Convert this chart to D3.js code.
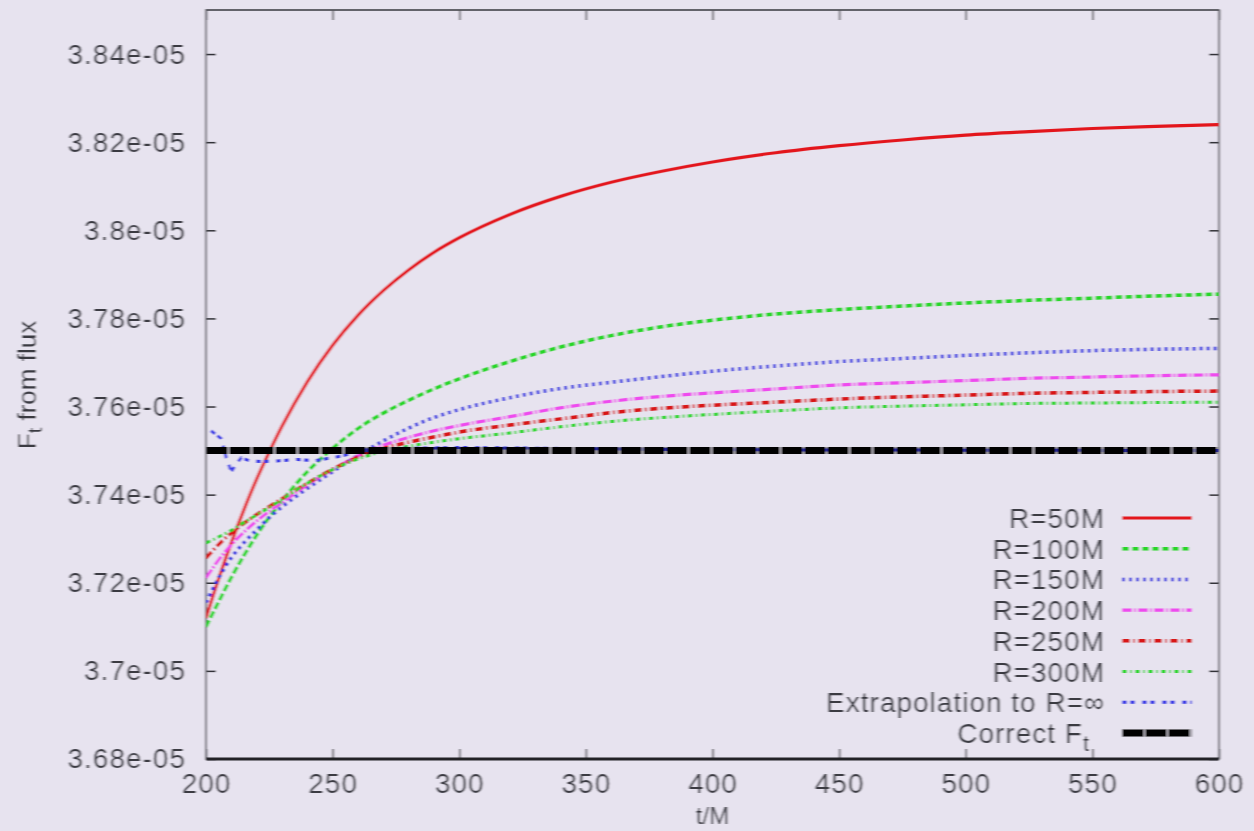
<!DOCTYPE html>
<html>
<head>
<meta charset="utf-8">
<script src="https://cdn.jsdelivr.net/npm/d3@7"></script>
<style>
  html, body { margin: 0; padding: 0; background: #e7e3ef; }
  svg { display: block; }
  text { font-family: "Liberation Sans", Arial, sans-serif; }
</style>
</head>
<body>
<svg id="chart" width="1254" height="831"></svg>
<script>
// Time samples (t/M) shared by the finite-radius curves
const tGrid = [200,205,210,215,220,225,230,240,250,260,270,280,290,300,320,340,360,380,400,425,450,475,500,525,550,575,600];

// F_t from flux, in units of 1e-5
const fR50  = [3.7120,3.7209,3.7291,3.7366,3.7435,3.7497,3.7555,3.7656,3.7739,3.7807,3.7863,3.7910,3.7950,3.7983,3.8036,3.8077,3.8109,3.8134,3.8155,3.8176,3.8192,3.8205,3.8216,3.8224,3.8231,3.8236,3.8240];
const fR100 = [3.7100,3.7157,3.7212,3.7262,3.7308,3.7349,3.7386,3.7452,3.7505,3.7550,3.7585,3.7614,3.7640,3.7663,3.7702,3.7735,3.7761,3.7781,3.7796,3.7810,3.7820,3.7828,3.7835,3.7841,3.7846,3.7851,3.7855];
const fR150 = [3.7155,3.7211,3.7257,3.7291,3.7320,3.7348,3.7372,3.7414,3.7452,3.7489,3.7522,3.7551,3.7575,3.7593,3.7620,3.7641,3.7655,3.7668,3.7680,3.7692,3.7702,3.7709,3.7716,3.7722,3.7727,3.7730,3.7732];
const fR200 = [3.7211,3.7252,3.7286,3.7315,3.7340,3.7362,3.7382,3.7422,3.7457,3.7488,3.7512,3.7530,3.7545,3.7557,3.7577,3.7597,3.7612,3.7623,3.7631,3.7640,3.7649,3.7654,3.7659,3.7664,3.7667,3.7670,3.7672];
const fR250 = [3.7256,3.7287,3.7313,3.7335,3.7355,3.7373,3.7391,3.7426,3.7458,3.7485,3.7505,3.7519,3.7531,3.7542,3.7558,3.7572,3.7586,3.7596,3.7603,3.7610,3.7617,3.7622,3.7626,3.7630,3.7632,3.7634,3.7635];
const fR300 = [3.7290,3.7304,3.7319,3.7337,3.7354,3.7371,3.7389,3.7426,3.7457,3.7481,3.7498,3.7510,3.7519,3.7527,3.7540,3.7554,3.7566,3.7575,3.7582,3.7590,3.7597,3.7601,3.7604,3.7607,3.7608,3.7609,3.7610];

// Extrapolation to infinite radius
const tExtrap = [202,204,206,208,210,212,214,217,222,229,236,243,252,259,266,277,300,340,395,600];
const fExtrap = [3.7545,3.7536,3.7527,3.7484,3.7452,3.7470,3.7484,3.7477,3.7475,3.7477,3.7480,3.7477,3.7486,3.7495,3.7503,3.7505,3.7507,3.7505,3.7502,3.7500];

// Exact value
const tCorrect = [200, 600];
const fCorrect = [3.75, 3.75];

// Axes
const xTicks = [200,250,300,350,400,450,500,550,600];
const yTicks = [3.68,3.70,3.72,3.74,3.76,3.78,3.80,3.82,3.84];
const yTickLabels = ["3.68e-05","3.7e-05","3.72e-05","3.74e-05","3.76e-05","3.78e-05","3.8e-05","3.82e-05","3.84e-05"];

const legendLabels = ["R=50M","R=100M","R=150M","R=200M","R=250M","R=300M","Extrapolation to R=\u221E","Correct F"];

const styles = [
  { color: "#e3141c", width: 3.2, dash: null },
  { color: "#26d626", width: 3.5, dash: "7,3" },
  { color: "#2f2fe0", width: 3.5, dash: "3,4" },
  { color: "#ee4cee", width: 3.2, dash: "10,2,2,2" },
  { color: "#d81418", width: 3.5, dash: "8,3,2,3" },
  { color: "#2ed62e", width: 3,   dash: "5,3,2,3" },
  { color: "#3a3ae6", width: 3,   dash: "5,3,5,7" },
  { color: "#000000", width: 7,   dash: "22,1" }
];

const series = [
  { t: tGrid, f: fR50 },
  { t: tGrid, f: fR100 },
  { t: tGrid, f: fR150 },
  { t: tGrid, f: fR200 },
  { t: tGrid, f: fR250 },
  { t: tGrid, f: fR300 },
  { t: tExtrap, f: fExtrap, linear: true },
  { t: tCorrect, f: fCorrect, linear: true }
];

const W = 1254, H = 831;
const plot = { left: 206, right: 1219, top: 10, bottom: 759 };

const svg = d3.select("#chart");

const defs = svg.append("defs");
defs.append("filter").attr("id", "soft")
  .attr("x", "-2%").attr("y", "-2%").attr("width", "104%").attr("height", "104%")
  .append("feGaussianBlur").attr("stdDeviation", "0.9 0.35");
defs.append("clipPath").attr("id", "plotClip")
  .append("rect")
  .attr("x", plot.left).attr("y", plot.top)
  .attr("width", plot.right - plot.left).attr("height", plot.bottom - plot.top);

const root = svg.append("g").attr("filter", "url(#soft)");
root.append("rect").attr("width", W).attr("height", H).attr("fill", "#e7e3ef");

const x = d3.scaleLinear().domain([200, 600]).range([plot.left, plot.right]);
const y = d3.scaleLinear().domain([3.68, 3.85]).range([plot.bottom, plot.top]);

const textColor = "#3a3a42";
const axisColor = "#333338";

// Bottom axis with inward ticks
const xAxis = root.append("g").attr("transform", `translate(0,${plot.bottom})`)
  .call(d3.axisBottom(x).tickValues(xTicks).tickSize(-10).tickPadding(14).tickFormat(d3.format("d")));
xAxis.select(".domain").remove();
xAxis.selectAll("line").attr("stroke", axisColor).attr("stroke-width", 1.5);
xAxis.selectAll("text").attr("fill", textColor).attr("font-size", 28).attr("letter-spacing", 1)
  .attr("font-family", "Liberation Sans, Arial, sans-serif");

// Top mirror ticks
const xTop = root.append("g").attr("transform", `translate(0,${plot.top})`)
  .call(d3.axisTop(x).tickValues(xTicks).tickSize(-10).tickFormat(""));
xTop.select(".domain").remove();
xTop.selectAll("line").attr("stroke", axisColor).attr("stroke-width", 1.5);

// Left axis
const yAxis = root.append("g").attr("transform", `translate(${plot.left},0)`)
  .call(d3.axisLeft(y).tickValues(yTicks).tickSize(-10).tickPadding(20)
    .tickFormat((d, i) => yTickLabels[i]));
yAxis.select(".domain").remove();
yAxis.selectAll("line").attr("stroke", axisColor).attr("stroke-width", 1.5);
yAxis.selectAll("text").attr("fill", textColor).attr("font-size", 28).attr("letter-spacing", 1)
  .attr("font-family", "Liberation Sans, Arial, sans-serif");

// Right mirror ticks
const yRight = root.append("g").attr("transform", `translate(${plot.right},0)`)
  .call(d3.axisRight(y).tickValues(yTicks).tickSize(-10).tickFormat(""));
yRight.select(".domain").remove();
yRight.selectAll("line").attr("stroke", axisColor).attr("stroke-width", 1.5);

// Plot frame
root.append("rect")
  .attr("x", plot.left).attr("y", plot.top)
  .attr("width", plot.right - plot.left).attr("height", plot.bottom - plot.top)
  .attr("fill", "none").attr("stroke", "#55555c").attr("stroke-width", 1.8);
root.append("line")
  .attr("x1", plot.left).attr("x2", plot.right).attr("y1", plot.bottom).attr("y2", plot.bottom)
  .attr("stroke", "#222226").attr("stroke-width", 3);

// Curves
const lines = root.append("g").attr("clip-path", "url(#plotClip)");
series.forEach((s, i) => {
  const pts = s.t.map((t, k) => [t, s.f[k]]);
  const gen = d3.line().x(d => x(d[0])).y(d => y(d[1]))
    .curve(s.linear ? d3.curveLinear : d3.curveMonotoneX);
  const st = styles[i];
  lines.append("path")
    .attr("d", gen(pts))
    .attr("fill", "none")
    .attr("stroke", st.color)
    .attr("stroke-width", st.width)
    .attr("stroke-dasharray", st.dash)
    .attr("stroke-linejoin", "round");
});

// Legend
const legend = root.append("g");
legendLabels.forEach((lab, i) => {
  const ly = 518 + i * 30.7;
  const st = styles[i];
  const tx = legend.append("text")
    .attr("x", 1105).attr("y", ly)
    .attr("dy", "0.36em")
    .attr("text-anchor", "end")
    .attr("font-size", 28).attr("letter-spacing", 1)
    .attr("fill", textColor);
  tx.append("tspan").text(lab);
  if (i === legendLabels.length - 1) {
    tx.attr("x", 1090);
    tx.append("tspan").attr("dy", "0.35em").attr("font-size", 22).text("t");
  }
  legend.append("line")
    .attr("x1", 1122).attr("x2", 1192)
    .attr("y1", ly).attr("y2", ly)
    .attr("stroke", st.color)
    .attr("stroke-width", st.width)
    .attr("stroke-dasharray", st.dash);
});

// Axis titles
root.append("text")
  .attr("x", (plot.left + plot.right) / 2).attr("y", 824)
  .attr("text-anchor", "middle")
  .attr("font-size", 24).attr("fill", textColor)
  .text("t/M");

const ylab = root.append("text")
  .attr("transform", "translate(36,385) rotate(-90)")
  .attr("text-anchor", "middle")
  .attr("font-size", 26).attr("fill", textColor);
ylab.append("tspan").text("F");
ylab.append("tspan").attr("dy", "0.3em").attr("font-size", 20).text("t");
ylab.append("tspan").attr("dy", "-0.25em").text(" from flux");
</script>
</body>
</html>
